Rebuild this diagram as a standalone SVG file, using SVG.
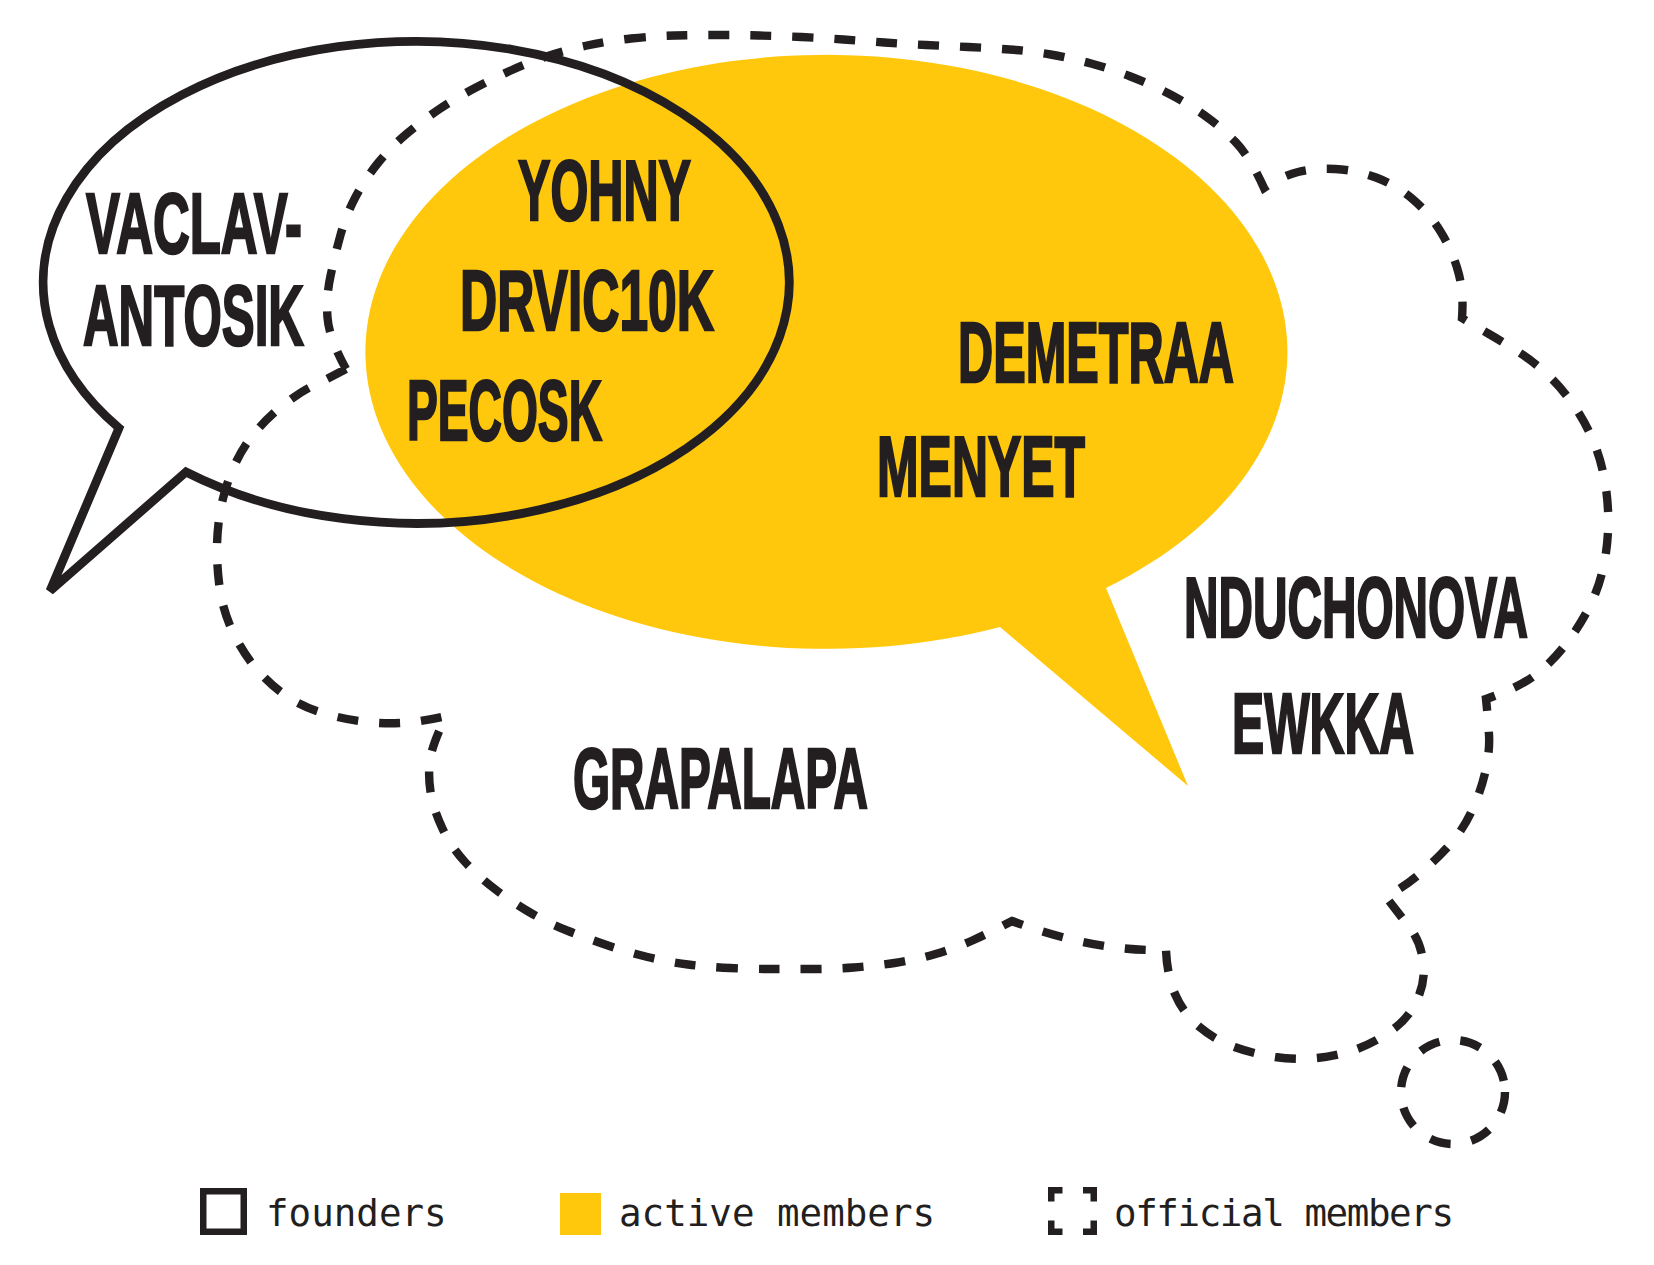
<svg xmlns="http://www.w3.org/2000/svg" width="1654" height="1265" viewBox="0 0 1654 1265">
<style>
.ink{fill:none;stroke:#231f20;stroke-width:8.8}
.dash{fill:none;stroke:#231f20;stroke-width:8.4;stroke-dasharray:21 21}
.lbl{font-family:"Liberation Sans Narrow","Liberation Sans",sans-serif;font-weight:bold;font-size:85px;fill:#231f20;stroke:#231f20;stroke-width:2.5;stroke-linejoin:miter}
.leg{font-family:"DejaVu Sans Mono","Liberation Mono",monospace;font-size:37.5px;fill:#231f20}
</style>
<rect x="0" y="0" width="1654" height="1265" fill="#ffffff"/>
<g id="active-members">
<path d="M1106,588 L1188,786 L1000,627 A461,297 0 1 1 1106,588 Z" fill="#ffc80c"/>
</g>
<g id="official-members">
<path class="dash" d="M346,369 Q325,380 312.5,386 Q300,392 284,404.5 Q268,417 255,432.5 Q242,448 233.5,467.5 Q225,487 221,507.5 Q217,528 217,549 Q217,570 220,590 Q223,610 231.5,629 Q240,648 252.5,664 Q265,680 281.5,692.5 Q298,705 318,711.5 Q338,718 359,721 Q380,724 400,723 Q420,722 446,716 Q432,745 430,760 Q428,775 430.5,791.5 Q433,808 442,827.5 Q451,847 465,862 Q479,877 495.5,889.5 Q512,902 530,912.5 Q548,923 567,930.5 Q586,938 606.5,945 Q627,952 647.5,957 Q668,962 688,964.5 Q708,967 730,968 Q752,969 772,969 Q792,969 812.5,969 Q833,969 853.5,967.5 Q874,966 894.5,963 Q915,960 935.5,954 Q956,948 973.5,940 Q991,932 1012,921 Q1095,952 1166,950 Q1167,975 1175,994 Q1183,1013 1199,1026.5 Q1215,1040 1234.5,1047 Q1254,1054 1275,1057 Q1296,1060 1317,1058 Q1338,1056 1357,1049 Q1376,1042 1393,1029.5 Q1410,1017 1418,998 Q1426,979 1423,960 Q1420,941 1410,928 Q1400,915 1386,897 Q1404,887 1420,873.5 Q1436,860 1449.5,845 Q1463,830 1472,810.5 Q1481,791 1485.5,771 Q1490,751 1489,734.5 Q1488,718 1486,699 Q1518,688 1534.5,675.5 Q1551,663 1564,646.5 Q1577,630 1587,611.5 Q1597,593 1602,573 Q1607,553 1608,531.5 Q1609,510 1606,488.5 Q1603,467 1596,448 Q1589,429 1577.5,411 Q1566,393 1551.5,378.5 Q1537,364 1520,353 Q1503,342 1489,334 Q1475,326 1462,318 Q1464,292 1458,271 Q1452,250 1440.5,231.5 Q1429,213 1412.5,199 Q1396,185 1376,177.5 Q1356,170 1335,169 Q1314,168 1298,172 Q1282,176 1264,188 Q1250,157 1235.5,142 Q1221,127 1204,115 Q1187,103 1168.5,93.5 Q1150,84 1130.5,76.5 Q1111,69 1091,63.5 Q1071,58 1050.5,54.5 Q1030,51 1009.5,49.5 Q989,48 968,47 Q947,46 926,45 Q905,44 884.5,42.5 Q864,41 843.5,39.5 Q823,38 801.5,37 Q780,36 759,35.5 Q738,35 717,35 Q696,35 675,35.5 Q654,36 631,38.5 Q608,41 587,45.5 Q566,50 548,56 Q530,62 512,70 Q494,78 475,88 Q456,98 439.5,109 Q423,120 407,133.5 Q391,147 378,163 Q365,179 355.5,197 Q346,215 340.5,235 Q335,255 330.5,276 Q326,297 327.5,317.5 Q329,338 346,369"/>
<circle class="dash" cx="1453" cy="1092" r="52"/>
</g>
<g id="founders">
<path class="ink" stroke-linejoin="miter" d="M186,472 A373,241 0 1 0 119,428 L50,591 Z"/>
</g>
<g id="labels">
<text class="lbl" transform="translate(86,252.8) scale(0.6,1)" x="0" y="0" textLength="360" lengthAdjust="spacingAndGlyphs">VACLAV-</text>
<text class="lbl" transform="translate(83,344.8) scale(0.6,1)" x="0" y="0" textLength="368.3" lengthAdjust="spacingAndGlyphs">ANTOSIK</text>
<text class="lbl" transform="translate(518,219.8) scale(0.6,1)" x="0" y="0" textLength="288.3" lengthAdjust="spacingAndGlyphs">YOHNY</text>
<text class="lbl" transform="translate(460,329.8) scale(0.6,1)" x="0" y="0" textLength="423.3" lengthAdjust="spacingAndGlyphs">DRVIC10K</text>
<text class="lbl" transform="translate(407,439.8) scale(0.6,1)" x="0" y="0" textLength="325" lengthAdjust="spacingAndGlyphs">PECOSK</text>
<text class="lbl" transform="translate(958,381.8) scale(0.6,1)" x="0" y="0" textLength="460" lengthAdjust="spacingAndGlyphs">DEMETRAA</text>
<text class="lbl" transform="translate(877,495.8) scale(0.6,1)" x="0" y="0" textLength="346.7" lengthAdjust="spacingAndGlyphs">MENYET</text>
<text class="lbl" transform="translate(1184,636.8) scale(0.6,1)" x="0" y="0" textLength="573.3" lengthAdjust="spacingAndGlyphs">NDUCHONOVA</text>
<text class="lbl" transform="translate(1232,752.8) scale(0.6,1)" x="0" y="0" textLength="303.3" lengthAdjust="spacingAndGlyphs">EWKKA</text>
<text class="lbl" transform="translate(573,807.8) scale(0.6,1)" x="0" y="0" textLength="491.7" lengthAdjust="spacingAndGlyphs">GRAPALAPA</text>
</g>
<g id="legend">
<g id="legend-founders">
<rect x="203.25" y="1191.25" width="40.5" height="40.5" fill="none" stroke="#231f20" stroke-width="6.5"/>
<text class="leg" x="266" y="1226">founders</text>
</g>
<g id="legend-active">
<rect x="560" y="1193" width="41" height="42" fill="#ffc80c"/>
<text class="leg" x="619" y="1226">active members</text>
</g>
<g id="legend-official">
<path fill="none" stroke="#231f20" stroke-width="6.5" stroke-linejoin="miter" d="M1051.25,1201.5 V1190.25 H1062.5 M1083,1190.25 H1093.75 V1201.5 M1093.75,1220.5 V1231.75 H1083 M1062.5,1231.75 H1051.25 V1220.5"/>
<text class="leg" x="1114" y="1226" textLength="340" lengthAdjust="spacing">official members</text>
</g>
</g>
</svg>
